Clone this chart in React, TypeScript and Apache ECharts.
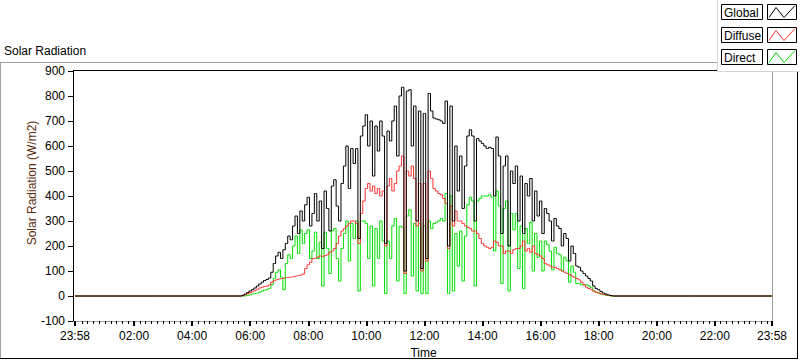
import React, { useEffect, useRef } from "react";
import * as echarts from "echarts";

// ---------- data ----------
// x axis: minutes elapsed since 23:58 (the left end of the axis)
const TICK_LABELS = ["23:58", "02:00", "04:00", "06:00", "08:00", "10:00", "12:00", "14:00", "16:00", "18:00", "20:00", "22:00", "23:58"];
const TICK_MINUTES = [0, 122, 242, 362, 482, 602, 722, 842, 962, 1082, 1202, 1322, 1440];
const AXIS_MINUTES = 1440;

// samples every 5 minutes, starting at 05:40, ending at 18:30
const SAMPLE_START = "05:40";
const SAMPLE_STEP = 5;

const globalVals = [
  0, 3, 8, 14,
  20, 26, 32, 40, 48, 55, 62, 66, 72, 95, 130, 160,
  175, 150, 185, 210, 240, 225, 280, 320, 250, 340, 300, 365,
  395, 280, 330, 410, 300, 380, 190, 420, 350, 260, 440, 465,
  360, 300, 450, 520, 600, 430, 590, 530, 590, 230, 640, 680,
  725, 600, 700, 480, 680, 580, 700, 640, 210, 660, 620, 700,
  760, 560, 800, 835, 100, 820, 825, 600, 760, 300, 740, 110,
  730, 150, 810, 740, 712, 708, 705, 700, 690, 780, 200, 760,
  300, 600, 420, 560, 350, 520, 640, 665, 640, 300, 630, 620,
  610, 600, 590, 595, 590, 400, 636, 560, 250, 520, 560, 200,
  500, 450, 520, 300, 480, 250, 450, 400, 470, 300, 420, 320,
  380, 250, 350, 330, 300, 220, 310, 280, 270, 200, 250, 230,
  140, 200, 170, 120, 115, 100, 90, 80, 70, 60, 40, 30,
  25, 18, 12, 8, 5, 2, 0,
];

const diffuseVals = [
  0, 2, 5, 9,
  13, 17, 22, 27, 32, 35, 38, 40, 44, 55, 62, 65,
  68, 70, 72, 74, 75, 76, 78, 80, 82, 84, 88, 110,
  125, 135, 150, 152, 155, 160, 158, 162, 165, 175, 180, 190,
  210, 240, 260, 270, 280, 290, 300, 300, 290, 210, 330, 380,
  430, 450, 420, 440, 410, 430, 400, 420, 200, 440, 470, 420,
  450, 500, 520, 560, 90, 500, 480, 520, 470, 280, 450, 100,
  450, 140, 500, 470, 430, 420, 410, 405, 390, 370, 190, 360,
  280, 340, 300, 300, 290, 280, 275, 270, 260, 260, 250, 230,
  210, 200, 195, 190, 195, 220, 215, 200, 200, 170, 180, 180,
  170, 185, 190, 190, 200, 220, 180, 190, 175, 200, 170, 165,
  160, 150, 130, 125, 120, 115, 115, 110, 105, 100, 95, 90,
  85, 80, 75, 70, 65, 55, 45, 35, 30, 25, 20, 15,
  12, 9, 6, 4, 2, 1, 0,
];

const directVals = [
  0, 0, 1, 3,
  5, 8, 10, 12, 15, 20, 24, 26, 30, 45, 70, 95,
  105, 75, 25, 130, 165, 150, 200, 240, 170, 264, 210, 250,
  265, 150, 180, 255, 150, 215, 40, 255, 190, 90, 260, 270,
  150, 60, 190, 250, 300, 140, 290, 230, 300, 20, 300, 300,
  290, 150, 280, 40, 270, 150, 300, 220, 10, 220, 150, 280,
  310, 60, 280, 275, 10, 320, 345, 80, 290, 20, 290, 10,
  280, 10, 300, 270, 290, 295, 300, 310, 300, 410, 10, 400,
  20, 250, 120, 260, 60, 240, 365, 395, 380, 40, 380, 390,
  400, 400, 400, 405, 395, 180, 420, 360, 50, 350, 380, 20,
  330, 265, 330, 110, 280, 30, 270, 210, 295, 100, 250, 155,
  220, 100, 220, 205, 180, 105, 195, 170, 165, 100, 155, 140,
  55, 120, 95, 50, 50, 45, 45, 45, 40, 35, 20, 15,
  12, 8, 5, 3, 2, 0, 0,
];

const SERIES_NAMES = ["Global", "Diffuse", "Direct"];
const COLORS = { Global: "#000000", Diffuse: "#ff3333", Direct: "#00e000" };

// ---------- helpers ----------
const FONT = "'Liberation Sans', Arial, sans-serif";

function hhmmToAxisMinutes(s: string): number {
  const [h, m] = s.split(":").map(Number);
  return h * 60 + m + 2; // axis starts at 23:58
}

function toSeries(vals: number[]): [number, number][] {
  const start = hhmmToAxisMinutes(SAMPLE_START);
  const pts: [number, number][] = [[0, 0]];
  vals.forEach((v, i) => pts.push([start + i * SAMPLE_STEP, v]));
  pts.push([AXIS_MINUTES, 0]);
  return pts;
}

function minorTicks(): number[] {
  const out: number[] = [];
  for (let t = 12; t < 1440; t += 12) {
    const m = t + 2;
    if (m >= AXIS_MINUTES) break;
    if (t % 120 === 0) continue;
    out.push(m);
  }
  return out;
}

function hline(x1: number, x2: number, y: number, color: string) {
  return { type: "line", silent: true, z: 100, shape: { x1, y1: y, x2, y2: y }, style: { stroke: color, lineWidth: 1 } };
}
function vline(x: number, y1: number, y2: number, color: string) {
  return { type: "line", silent: true, z: 100, shape: { x1: x, y1, x2: x, y2 }, style: { stroke: color, lineWidth: 1 } };
}

function legendItems() {
  const items: any[] = [];
  const rows = [4.5, 27.5, 49.5];
  SERIES_NAMES.forEach((name, i) => {
    const y = rows[i];
    items.push({
      type: "rect", silent: true, z: 110,
      shape: { x: 721.5, y, width: 41, height: 15 },
      style: { fill: "#ffffff", stroke: "#000000", lineWidth: 1 },
    });
    items.push({
      type: "text", silent: true, z: 111, x: 724, y: y + 8,
      style: { text: name, fill: "#000000", font: `12px ${FONT}`, textVerticalAlign: "middle", textAlign: "left" },
    });
    items.push({
      type: "rect", silent: true, z: 110,
      shape: { x: 767.5, y, width: 29, height: 15 },
      style: { fill: "#ffffff", stroke: "#000000", lineWidth: 1 },
    });
    items.push({
      type: "polyline", silent: true, z: 111,
      shape: { points: [[769, y + 13], [776, y + 3], [784, y + 13], [795, y + 1]] },
      style: { stroke: (COLORS as any)[name], lineWidth: 1, fill: "none" },
    });
  });
  return items;
}

export default function App() {
  const ref = useRef<HTMLDivElement>(null);

  useEffect(() => {
    if (!ref.current) return;
    const chart = echarts.init(ref.current, null, { renderer: "svg" });
    const textStyle = { color: "#000000", fontSize: 12, fontFamily: FONT };

    const option: any = {
      animation: false,
      backgroundColor: "#ffffff",
      grid: { left: 75, right: 28, top: 71, bottom: 40, containLabel: false, outerBoundsMode: "none" },
      xAxis: [
        {
          type: "value", min: 0, max: AXIS_MINUTES,
          axisLine: { show: true, onZero: false, lineStyle: { color: "#a0a0a0", width: 1 } },
          axisTick: { show: true, customValues: TICK_MINUTES, length: 5, lineStyle: { color: "#000000", width: 2 } },
          axisLabel: {
            show: true, customValues: TICK_MINUTES, margin: 9, ...textStyle,
            formatter: (v: number) => {
              const i = TICK_MINUTES.indexOf(Math.round(v));
              return i >= 0 ? TICK_LABELS[i] : "";
            },
          },
          splitLine: { show: false },
          name: "Time", nameLocation: "middle", nameGap: 25,
          nameTextStyle: { ...textStyle },
        },
        {
          type: "value", min: 0, max: AXIS_MINUTES, position: "bottom",
          axisLine: { show: false, onZero: false },
          axisTick: { show: true, customValues: minorTicks(), length: 3, lineStyle: { color: "#000000", width: 1 } },
          axisLabel: { show: false },
          splitLine: { show: false },
        },
      ],
      yAxis: {
        type: "value", min: -100, max: 900, interval: 100, offset: 2,
        axisLine: { show: true, onZero: false, lineStyle: { color: "#000000", width: 1 } },
        axisTick: { show: true, length: 5, lineStyle: { color: "#000000", width: 1 } },
        axisLabel: { margin: 8, ...textStyle },
        splitLine: { show: false },
      },
      series: [
        { name: "Direct", vals: directVals },
        { name: "Diffuse", vals: diffuseVals },
        { name: "Global", vals: globalVals },
      ].map((s) => ({
        name: s.name, type: "line", xAxisIndex: 0, yAxisIndex: 0,
        data: toSeries(s.vals), symbol: "none", silent: true, step: "middle",
        lineStyle: { color: (COLORS as any)[s.name], width: 1 },
        itemStyle: { color: (COLORS as any)[s.name] },
      })),
      graphic: [
        // outer frame
        hline(0, 717, 62.5, "#a0a0a0"),
        vline(0.5, 62, 358, "#a0a0a0"),
        hline(0, 798, 358.5, "#000000"),
        vline(797.5, 72, 359, "#000000"),
        // plot frame
        hline(73, 717, 70.5, "#000000"),
        vline(772.5, 71, 321, "#a0a0a0"),
        // legend panel
        { type: "rect", silent: true, z: 105, shape: { x: 717, y: 0, width: 83, height: 72 }, style: { fill: "#ffffff", stroke: null } },
        { ...vline(717.5, 0, 72, "#d4d4d4"), z: 106 },
        { ...hline(717, 800, 71.5, "#d4d4d4"), z: 106 },
        ...legendItems(),
        // title
        {
          type: "text", silent: true, z: 100, x: 4, y: 51,
          style: { text: "Solar Radiation", fill: "#000000", font: `12px ${FONT}`, textVerticalAlign: "middle" },
        },
        // y axis title
        {
          type: "text", silent: true, z: 100, x: 32, y: 183, rotation: Math.PI / 2,
          style: { text: "Solar Radiation (W/m2)", fill: "#5a2a0a", font: `12px ${FONT}`, textAlign: "center", textVerticalAlign: "middle" },
        },
      ],
    };
    chart.setOption(option);
    return () => chart.dispose();
  }, []);

  return (
    <div
      ref={ref}
      style={{ position: "fixed", left: 0, top: 0, width: 800, height: 361, background: "#ffffff" }}
    />
  );
}
